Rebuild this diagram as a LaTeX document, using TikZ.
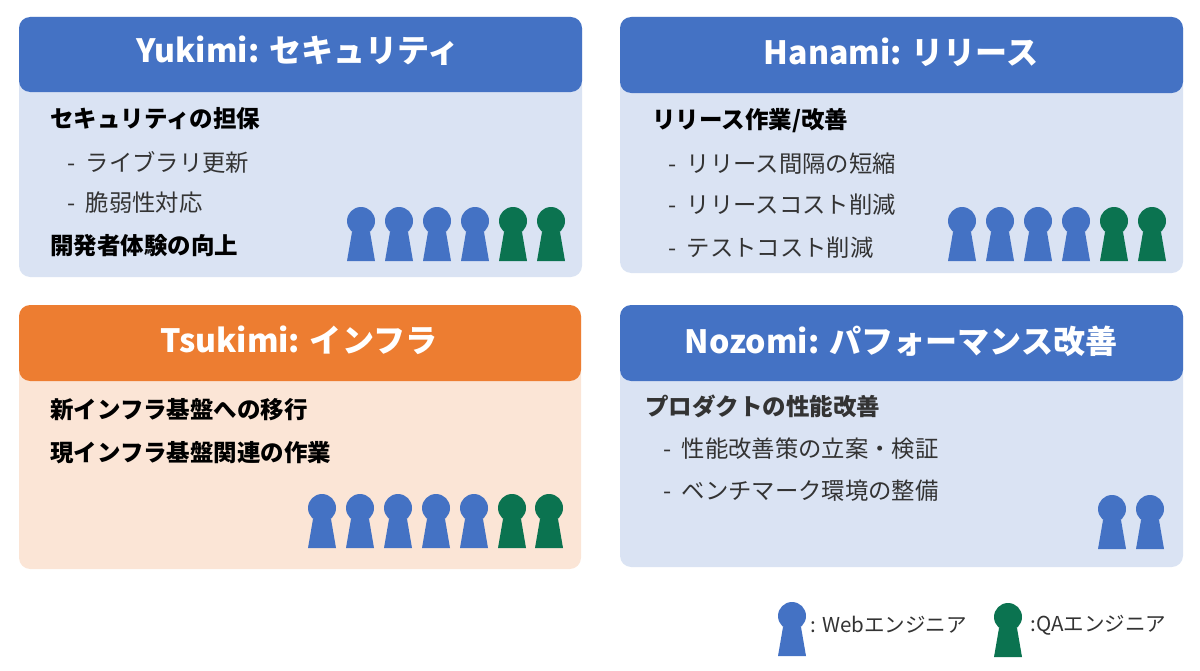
\documentclass[tikz,border=0pt]{standalone}
\usepackage{fontspec}
\setmainfont{Noto Sans CJK JP}
\usetikzlibrary{positioning}
\definecolor{webblue}{HTML}{4472C4}
\definecolor{qagreen}{HTML}{0B7350}
\definecolor{infraorange}{HTML}{ED7D31}
\definecolor{paleblue}{HTML}{DAE3F3}
\definecolor{paleorange}{HTML}{FBE5D6}
\newcommand{\dashgap}{-\hspace{.45em}}
\tikzset{
  panel/.style={rounded corners=8pt},
  header/.style={text=white,font=\fontsize{22.8}{23}\selectfont\bfseries},
  lead/.style={anchor=west,inner sep=0pt,text=black,font=\fontsize{16.7}{17}\selectfont\bfseries},
  item/.style={anchor=west,inner sep=0pt,text=black!80,font=\fontsize{16.6}{17}\selectfont},
  legend/.style={anchor=west,inner sep=0pt,text=black!80,font=\fontsize{14.6}{15}\selectfont},
  pics/pawn/.style={code={
    \fill[#1] (-14,0) -- (-9,-29) -- (9,-29) -- (14,0) -- cycle;
    \fill[#1] (0,-40) circle[radius=14];
  }}
}
\begin{document}
\begin{tikzpicture}[x=.025cm,y=-.025cm]
\useasboundingbox (0,0) rectangle (1200,670);
\fill[paleblue,panel] (19,17) rectangle (582,277);
\fill[webblue,panel] (19,17) rectangle (582,92);
\fill[paleblue,panel] (620,17) rectangle (1183,273);
\fill[webblue,panel] (620,17) rectangle (1183,93);
\fill[paleorange,panel] (19,305) rectangle (581,569);
\fill[infraorange,panel] (19,305) rectangle (581,381);
\fill[paleblue,panel] (620,305) rectangle (1183,567);
\fill[webblue,panel] (620,305) rectangle (1183,381);
\node[header] (yukimi) at (298,51) {Yukimi: セキュリティ};
\node[header] (hanami) at (901,52) {Hanami: リリース};
\node[header] (tsukimi) at (299,340) {Tsukimi: インフラ};
\node[header] (nozomi) at (901,341) {Nozomi: パフォーマンス改善};
\node[lead] (y1) at (50,119) {セキュリティの担保};
\node[item] (y2) at (67,162) {\dashgap ライブラリ更新};
\node[item] (y3) at (67,203) {\dashgap 脆弱性対応};
\node[lead] (y4) at (50,246) {開発者体験の向上};
\node[lead] (h1) at (652,121) {リリース作業/改善};
\node[item] (h2) at (668,164) {\dashgap リリース間隔の短縮};
\node[item] (h3) at (668,205) {\dashgap リリースコスト削減};
\node[item] (h4) at (668,248) {\dashgap テストコスト削減};
\node[lead] (t1) at (50,410) {新インフラ基盤への移行};
\node[lead] (t2) at (50,453) {現インフラ基盤関連の作業};
\node[lead,text=black!80] (n1) at (645,406) {プロダクトの性能改善};
\node[item] (n2) at (663,449) {\dashgap 性能改善策の立案・検証};
\node[item] (n3) at (663,491) {\dashgap ベンチマーク環境の整備};
\foreach \x in {361,399,437,475} \pic at (\x,261) {pawn=webblue};
\foreach \x in {513,551} \pic at (\x,261) {pawn=qagreen};
\foreach \x in {962,1000,1038,1076} \pic at (\x,261) {pawn=webblue};
\foreach \x in {1114,1152} \pic at (\x,261) {pawn=qagreen};
\foreach \x in {322,360,398,436,474} \pic at (\x,548) {pawn=webblue};
\foreach \x in {512,549} \pic at (\x,548) {pawn=qagreen};
\foreach \x in {1112,1150} \pic at (\x,549) {pawn=webblue};
\pic at (792,656) {pawn=webblue};
\pic at (1008,657) {pawn=qagreen};
\node[legend] (webnote) at (810,625) {: Webエンジニア};
\node[legend] (qanote) at (1030,625) {:QAエンジニア};
\end{tikzpicture}
\end{document}
